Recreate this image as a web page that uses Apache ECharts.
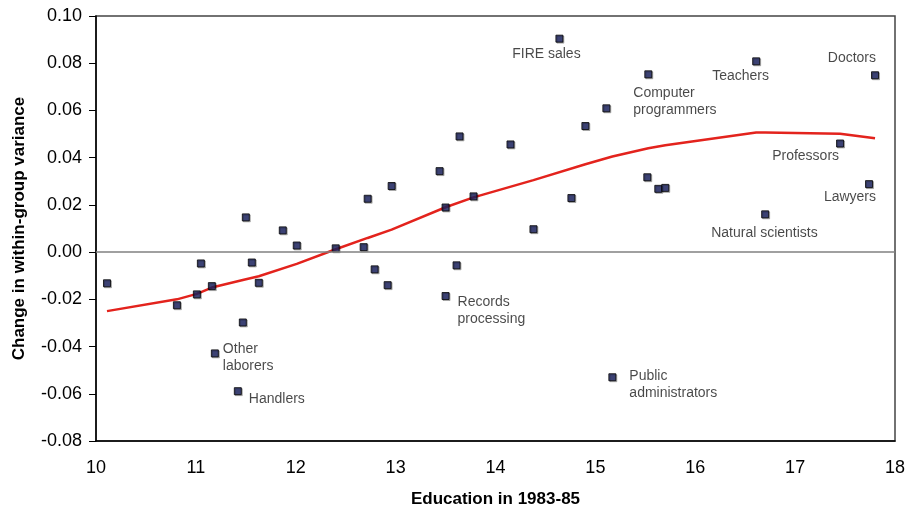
<!DOCTYPE html>
<html>
<head>
<meta charset="utf-8">
<script src="https://cdn.jsdelivr.net/npm/echarts@6/dist/echarts.min.js"></script>
<style>
  html, body { margin: 0; padding: 0; background: #fff; }
  #chart { width: 911px; height: 510px; }
</style>
</head>
<body>
<div id="chart"></div>
<script>
// Average years of education by occupation, 1983-85
const educ = [10.11, 10.81, 11.01, 11.05, 11.16, 11.19, 11.47, 11.42, 11.56, 11.63,
              11.50, 11.87, 12.01, 12.40, 12.68, 12.72, 12.96, 12.79, 12.92, 13.44,
              13.50, 13.64, 13.78, 13.50, 13.61, 14.15, 14.38, 14.64, 14.76, 14.90,
              15.11, 15.17, 15.53, 15.52, 15.63, 15.70, 16.61, 16.70, 17.45, 17.74,
              17.80];
// Change in within-occupation wage variance
const varChange = [-0.0132, -0.0225, -0.0179, -0.0048, -0.0144, -0.0429, -0.0298, -0.0589, -0.0044, -0.0130,
                   0.0147, 0.0092, 0.0028, 0.0016, 0.0021, 0.0226, 0.0280, -0.0073, -0.0140, 0.0343,
                   0.0189, 0.0490, 0.0236, -0.0186, -0.0056, 0.0456, 0.0097, 0.0904, 0.0229, 0.0534,
                   0.0609, -0.0530, 0.0753, 0.0317, 0.0268, 0.0272, 0.0808, 0.0160, 0.0460, 0.0288,
                   0.0749];
// Occupation names shown next to selected points ('' = unlabeled)
const occupation = ['', '', '', '', '', 'Other\nlaborers', '', 'Handlers', '', '',
                    '', '', '', '', '', '', '', '', '', '',
                    '', '', '', 'Records\nprocessing', '', '', '', 'FIRE sales', '', '',
                    '', 'Public\nadministrators', 'Computer\nprogrammers', '', '', '', 'Teachers', 'Natural scientists', 'Professors', 'Lawyers',
                    'Doctors'];
// Smoothed fit through the scatter
const fitX = [10.11, 10.81, 11.01, 11.16, 11.47, 11.63, 12.01, 12.40, 12.72, 12.96,
              13.50, 13.78, 14.38, 14.90, 15.17, 15.53, 15.70, 16.61, 16.70, 17.45, 17.80];
const fitY = [-0.0250, -0.0200, -0.0177, -0.0150, -0.0118, -0.0102, -0.0050, 0.0012, 0.0060, 0.0095,
              0.0190, 0.0232, 0.0305, 0.0372, 0.0405, 0.0440, 0.0453, 0.0507, 0.0507, 0.0501, 0.0482];
const yTicks = { min: -0.08, max: 0.10, step: 0.02 };
const xTicks = { min: 10, max: 18, step: 1 };

// Label placement relative to each marker centre: [align, dx, dy]
const labelLayout = {
  'Other\nlaborers': ['left', 8, 4],
  'Handlers': ['left', 11, 8],
  'Records\nprocessing': ['left', 12, 15],
  'FIRE sales': ['center', -13, 15],
  'Public\nadministrators': ['left', 17, 7],
  'Computer\nprogrammers': ['left', -15, 27],
  'Teachers': ['left', -44, 15],
  'Natural scientists': ['left', -54, 19],
  'Professors': ['right', -1, 13],
  'Lawyers': ['right', 7, 13],
  'Doctors': ['right', 1, -17]
};

const FONT = '"Liberation Sans", Arial, sans-serif';

const scatterData = educ.map((x, i) => {
  const name = occupation[i];
  const item = { value: [x, varChange[i]], name: name };
  if (name) {
    const lay = labelLayout[name];
    item.label = {
      show: true,
      position: 'inside',
      formatter: '{b}',
      align: lay[0],
      verticalAlign: 'middle',
      offset: [lay[1], lay[2]],
      fontFamily: FONT,
      fontSize: 14,
      lineHeight: 17,
      color: '#1a1a1a'
    };
  }
  return item;
});

const chart = echarts.init(document.getElementById('chart'), null, { renderer: 'canvas' });
chart.setOption({
  animation: false,
  backgroundColor: '#fff',
  grid: {
    left: 96, right: 16, top: 16, bottom: 69,
    outerBoundsMode: 'none',
    containLabel: false,
    show: true, borderColor: '#444', borderWidth: 1.5, backgroundColor: 'transparent'
  },
  xAxis: {
    type: 'value',
    min: xTicks.min, max: xTicks.max, interval: xTicks.step,
    name: 'Education in 1983-85',
    nameLocation: 'middle',
    nameGap: 50,
    nameTextStyle: { fontFamily: FONT, fontSize: 17, fontWeight: 'bold', color: '#000' },
    axisLine: { show: true, onZero: false, lineStyle: { color: '#000', width: 1.5 } },
    axisTick: { show: false },
    splitLine: { show: false },
    axisLabel: { fontFamily: FONT, fontSize: 18, color: '#000', margin: 18 }
  },
  yAxis: {
    type: 'value',
    min: yTicks.min, max: yTicks.max, interval: yTicks.step,
    name: 'Change in within-group variance',
    nameLocation: 'middle',
    nameRotate: 90,
    nameGap: 68,
    nameTextStyle: { fontFamily: FONT, fontSize: 17, fontWeight: 'bold', color: '#000' },
    axisLine: { show: true, onZero: false, lineStyle: { color: '#000', width: 1.5 } },
    axisTick: { show: true, inside: false, length: 7, lineStyle: { color: '#000', width: 1 } },
    splitLine: { show: false },
    axisLabel: {
      fontFamily: FONT, fontSize: 18, color: '#000', margin: 14,
      formatter: v => v.toFixed(2)
    }
  },
  series: [
    {
      type: 'line',
      data: fitX.map((x, i) => [x, fitY[i]]),
      showSymbol: false,
      symbol: 'none',
      lineStyle: { color: '#e3231d', width: 2.5 },
      z: 2,
      silent: true,
      markLine: {
        silent: true,
        symbol: 'none',
        label: { show: false },
        lineStyle: { color: '#808080', width: 1.5, type: 'solid' },
        data: [{ yAxis: 0 }]
      }
    },
    {
      type: 'scatter',
      data: scatterData,
      symbol: 'rect',
      symbolSize: 7,
      itemStyle: {
        color: '#1a2260',
        borderColor: '#000',
        borderWidth: 1,
        shadowColor: 'rgba(0,0,0,0.3)',
        shadowBlur: 0,
        shadowOffsetX: 1,
        shadowOffsetY: 1
      },
      z: 3
    }
  ]
});
</script>
</body>
</html>
